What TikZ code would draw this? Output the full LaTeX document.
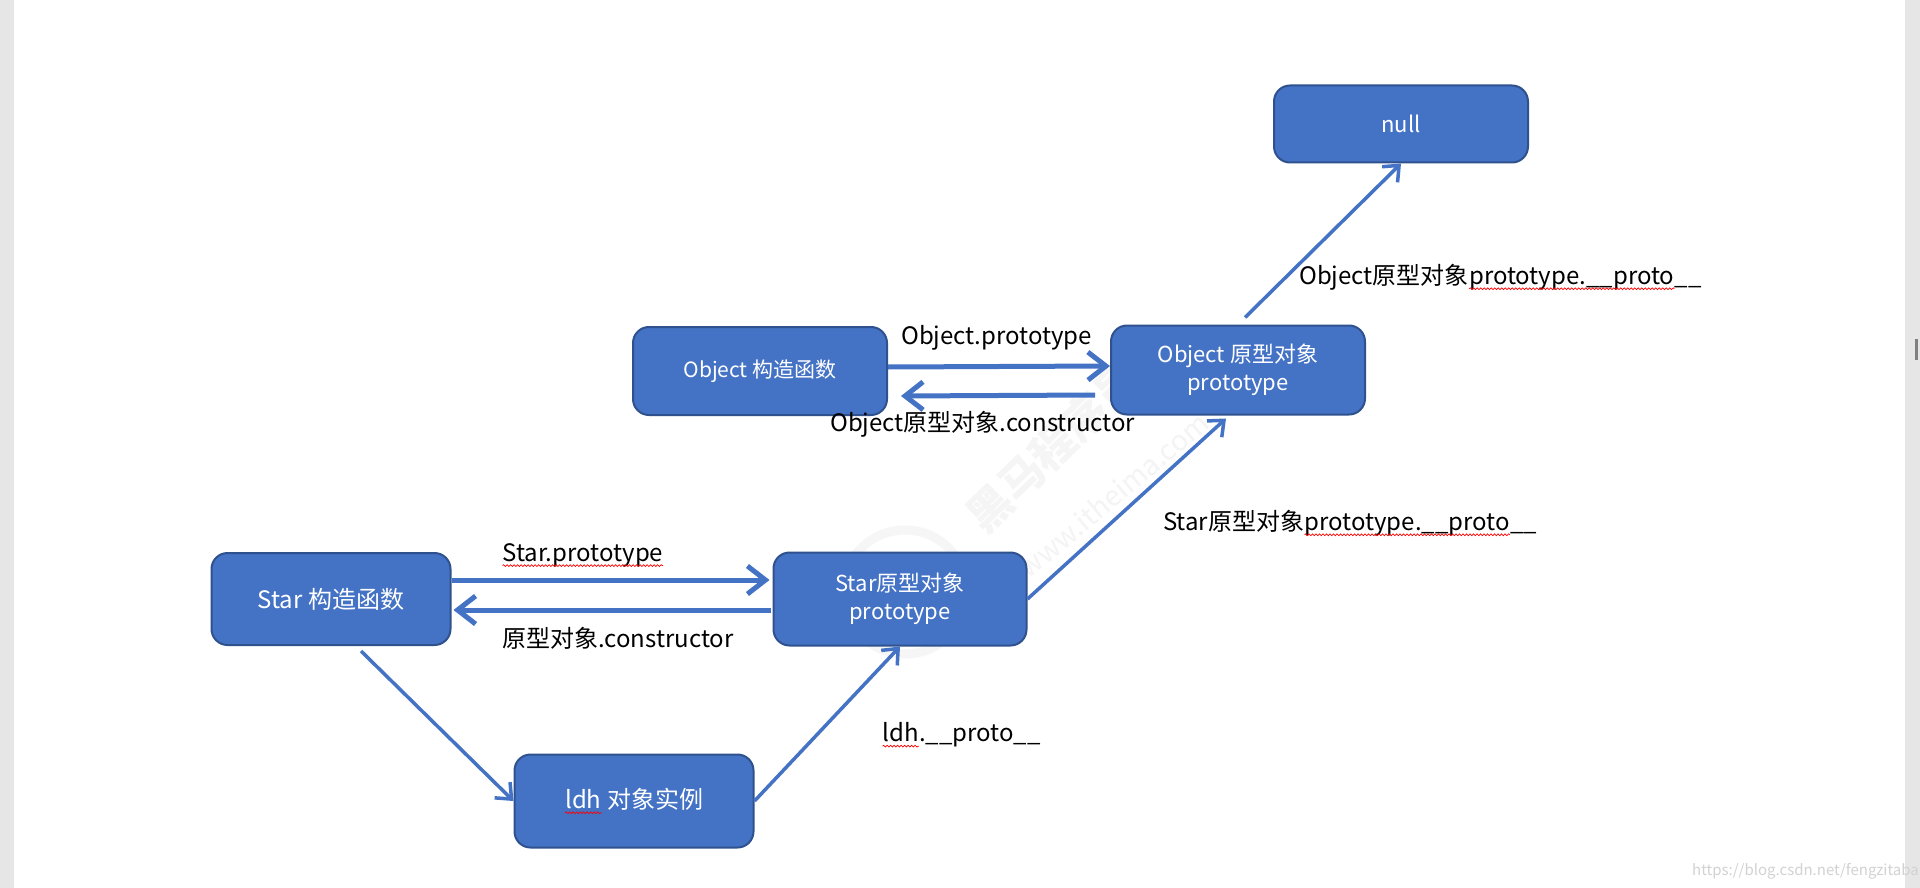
\documentclass[tikz,border=0pt]{standalone}
\usepackage{fontspec}
\setmainfont{Noto Sans CJK SC}
\usetikzlibrary{arrows.meta,decorations.pathmorphing}
\definecolor{boxblue}{HTML}{4472C4}
\definecolor{boxedge}{HTML}{2F528F}
\definecolor{sidegray}{HTML}{E6E6E6}
\tikzset{
  box/.style={draw=boxedge, line width=2pt, fill=boxblue, rounded corners=16pt,
              text=white, align=center, inner sep=0pt,
              minimum width=#1, minimum height=90pt,
              font=\fontsize{22}{28}\selectfont},
  box/.default={254pt}, % width of the wide boxes
  flow/.style={draw=boxblue, line width=5pt,
               -{Straight Barb[length=18pt,width=28pt]}},
  link/.style={draw=boxblue, line width=3.5pt,
               -{Straight Barb[length=13pt,width=22pt]}},
  lbl/.style={anchor=west, inner sep=0pt, font=\fontsize{24}{30}\selectfont},
  wavein/.style={inner sep=0pt, outer sep=0pt, draw=none, fill=none,
                 minimum width=0pt, minimum height=0pt, rounded corners=0pt},
}
% red spell-check wave under a word
\newcommand\redwave[1]{\tikz[baseline=(w.base)]{%
  \node[wavein] (w) {#1};
  \draw[red, line width=0.7pt, rounded corners=0pt, -, decorate,
        decoration={snake, amplitude=0.9pt, segment length=3.5pt}]
    ([yshift=-4.5pt]w.base west) -- ([yshift=-4.5pt]w.base east);}}

\begin{document}
\begin{tikzpicture}[x=1pt, y=1pt]
  \useasboundingbox (0,0) rectangle (1920,-888);
  % page and side strips
  \fill[white] (0,0) rectangle (1920,-888);
  \fill[sidegray] (0,0) rectangle (14,-888);
  \fill[sidegray] (1905,0) rectangle (1920,-888);
  \fill[gray] (1915,-339) rectangle (1918,-360);
  % faint watermark
  \draw[gray!7, line width=9pt] (905,-592) circle (62);
  \node[rotate=44, text=gray!8, font=\fontsize{44}{44}\selectfont\bfseries] (wmname) at (1053,-447) {黑马程序员};
  \node[rotate=40, text=gray!9, font=\fontsize{28}{28}\selectfont] (wmsite) at (1113,-495) {www.itheima.com};
  \node[anchor=base west, inner sep=0pt, text=gray!35, font=\fontsize{15}{15}\selectfont] (wmblog) at (1692,-875) {https://blog.csdn.net/fengzitaba};

  % boxes
  \node[box, minimum height=77pt] (null) at (1401,-124) {null};
  \node[box, minimum height=88pt, font=\fontsize{21}{28}\selectfont] (objctor) at (760,-371) {Object 构造函数};
  \node[box, minimum height=89pt] (objproto) at (1238,-370) {Object 原型对象\\prototype};
  \node[box=239pt, minimum height=92pt, font=\fontsize{24}{30}\selectfont] (starctor) at (331,-599) {Star 构造函数};
  \node[box=253pt, minimum height=93pt] (starproto) at (900,-599) {Star原型对象\\prototype};
  \node[box=239pt, minimum height=93pt, font=\fontsize{24}{30}\selectfont] (ldh) at (634,-801) {\redwave{ldh} 对象实例};

  % connect boxes
  \draw[flow] ([yshift=4pt]objctor.east) -- ([yshift=4pt]objproto.west);
  \draw[flow] ([xshift=-15pt,yshift=-25pt]objproto.west) -- ([xshift=13pt,yshift=-25pt]objctor.east);
  \draw[flow] ([yshift=19pt]starctor.east) -- ([xshift=-3pt,yshift=19pt]starproto.west);
  \draw[flow] ([xshift=-2pt,yshift=-11pt]starproto.west) -- ([xshift=2pt,yshift=-11pt]starctor.east);
  \draw[link] ([xshift=7pt,yshift=7pt]objproto.north) -- (null.south);
  \draw[link] (starproto.east) -- ([xshift=-12pt,yshift=-3pt]objproto.south);
  \draw[link] ([xshift=30pt,yshift=-5pt]starctor.south) -- (ldh.west);
  \draw[link] (ldh.east) -- (starproto.south);

  % labels
  \node[lbl] (objprotolbl) at (901,-338) {Object.prototype};
  \node[lbl] (objctorlbl) at (830,-424) {Object原型对象.constructor};
  \node[lbl] (nulllbl) at (1299,-277) {Object原型对象\redwave{prototype.\_\_proto}\_\_};
  \node[lbl] (objuplbl) at (1163,-523) {Star原型对象\redwave{prototype.\_\_proto}\_\_};
  \node[lbl] (starprotolbl) at (502,-555) {\redwave{Star.prototype}};
  \node[lbl] (starctorlbl) at (502,-638) {原型对象.constructor};
  \node[lbl] (ldhlbl) at (882,-735) {\redwave{ldh}.\_\_proto\_\_};
\end{tikzpicture}
\end{document}
